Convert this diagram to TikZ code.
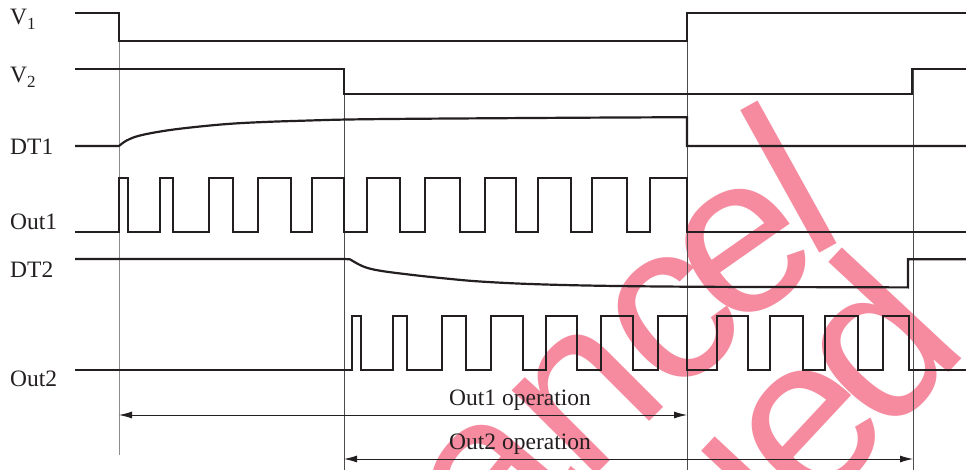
\documentclass[tikz,border=0pt]{standalone}
\usepackage{fontspec}
\setmainfont{Liberation Serif}
\newfontfamily\wmfont{Liberation Sans}
\usetikzlibrary{arrows.meta}
\definecolor{wmpink}{RGB}{246,139,160}
\definecolor{ink}{RGB}{35,31,32}
\begin{document}
\begin{tikzpicture}[x=1pt,y=-1pt,
  sig/.style={line width=2.2pt, line join=miter, draw=ink},
  guide/.style={line width=0.9pt, draw=black!70},
  guidelight/.style={line width=0.9pt, draw=black!45},
  dim/.style={line width=0.9pt, draw=ink, {Latex[length=13pt,width=7pt]}-{Latex[length=13pt,width=7pt]}},
  lab/.style={font=\fontsize{23.5}{26}\selectfont, anchor=base west, inner sep=0pt, text=ink},
  wm/.style={font=\wmfont\fontsize{225}{225}\selectfont, text=wmpink, inner sep=0pt, anchor=center}]
\useasboundingbox (0,0) rectangle (966,470);
\fill[white] (0,0) rectangle (966,470);

% watermark
\begin{scope}
\clip (0,0) rectangle (966,470);
\node[wm, rotate=50] (wa) at (495,484) {a};
\node[wm, rotate=45] (wn) at (587,398) {n};
\node[wm, rotate=40] (wc) at (673,320) {c};
\node[wm, rotate=35] (we) at (745,251) {e};
\node[wm, rotate=29] (wl) at (789,177) {l};
\node[wm, rotate=47] (wl2) at (768,500) {l};
\node[wm, rotate=47] (we2) at (813,431) {e};
\node[wm, rotate=47] (wd2) at (870,339) {d};
\end{scope}

% guide lines
\draw[guidelight] (119,13) -- (119,455);
\draw[guide] (344,69) -- (344,470);
\draw[guide] (687,13) -- (687,470);
\draw[guide] (913,69) -- (913,470);

% labels
\node[lab] (lv1) at (10,25) {V\raisebox{-4.5pt}{\fontsize{17}{17}\selectfont 1}};
\node[lab] (lv2) at (10,83) {V\raisebox{-4.5pt}{\fontsize{17}{17}\selectfont 2}};
\node[lab] (ldt1) at (10,155) {DT1};
\node[lab] (lo1) at (10,230) {Out1};
\node[lab] (ldt2) at (10,277) {DT2};
\node[lab] (lo2) at (10,386) {Out2};

% V1
\draw[sig] (75,13) -- (119,13) -- (119,41) -- (687,41) -- (687,13) -- (966,13);
% V2
\draw[sig] (75,69) -- (344,69) -- (344,94) -- (912,94) -- (912,69) -- (966,69);
% DT1
\draw[sig] (75,146) -- (119,146)
  plot[smooth, tension=0.6] coordinates {(119,146) (126.7,140.5) (140,135.5) (166.7,130.5) (200,126.5) (233,123.6) (266.7,121.9) (300,120.8) (343,119.6) (400,118.9) (500,118.2) (600,117.6) (687,117.2)}
  -- (687,146) -- (966,146);
% Out1
\draw[sig] (75,232) -- (119,232)
  -- (119,178) -- (128,178) -- (128,232)
  -- (160,232) -- (160,178) -- (173,178) -- (173,232)
  -- (209,232) -- (209,178) -- (233,178) -- (233,232)
  -- (258,232) -- (258,178) -- (291,178) -- (291,232)
  -- (312,232) -- (312,178) -- (344,178) -- (344,232)
  -- (367,232) -- (367,178) -- (400,178) -- (400,232)
  -- (425,232) -- (425,178) -- (460,178) -- (460,232)
  -- (485,232) -- (485,178) -- (516,178) -- (516,232)
  -- (538,232) -- (538,178) -- (571,178) -- (571,232)
  -- (592,232) -- (592,178) -- (627,178) -- (627,232)
  -- (650,232) -- (650,178) -- (687,178) -- (687,232)
  -- (966,232);
% DT2
\draw[sig] (75,259) -- (344,259) -- (350,259.3)
  plot[smooth, tension=0.6] coordinates {(350,259.3) (363.3,266.5) (380,270.7) (413,275) (446.7,278.6) (480,281.5) (530,284) (596.7,285.7) (686.7,286.7) (800,287.1) (908,287.4)}
  -- (908,259.3) -- (966,259.3);
% Out2
\draw[sig] (75,370) -- (351.7,370)
  -- (351.7,316) -- (361,316) -- (361,370)
  -- (393,370) -- (393,316) -- (406.7,316) -- (406.7,370)
  -- (441.7,370) -- (441.7,316) -- (466,316) -- (466,370)
  -- (491,370) -- (491,316) -- (523,316) -- (523,370)
  -- (546,370) -- (546,316) -- (577,316) -- (577,370)
  -- (601,370) -- (601,316) -- (633,316) -- (633,370)
  -- (658,370) -- (658,316) -- (687.3,316) -- (687.3,370)
  -- (717,370) -- (717,316) -- (748,316) -- (748,370)
  -- (770,370) -- (770,316) -- (803,316) -- (803,370)
  -- (825,370) -- (825,316) -- (858,316) -- (858,370)
  -- (883,370) -- (883,316) -- (909,316) -- (909,370)
  -- (966,370);

% operation arrows
\coordinate (o1s) at (119,415);
\coordinate (o1e) at (687,415);
\coordinate (o2s) at (344,459);
\coordinate (o2e) at (913,459);
\draw[dim] (o1s) -- (o1e);
\draw[dim] (o2s) -- (o2e);
\node[lab] (t1) at (449,405) {Out1 operation};
\node[lab] (t2) at (449,449) {Out2 operation};
\end{tikzpicture}
\end{document}
